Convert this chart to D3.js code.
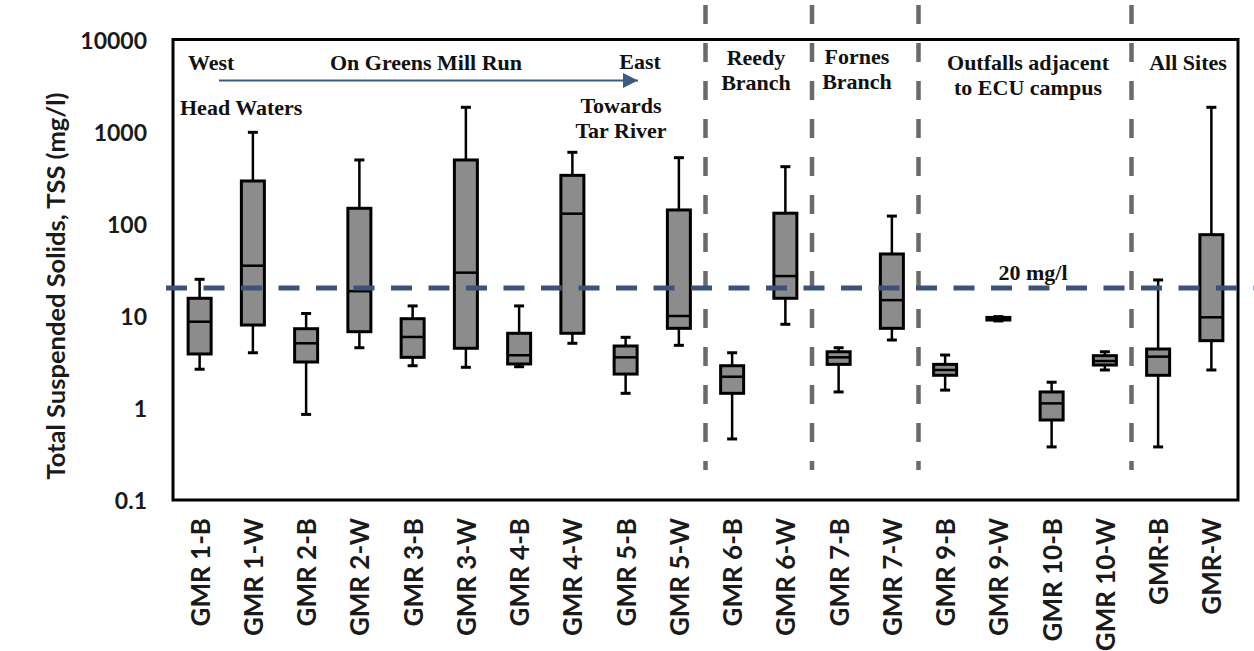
<!DOCTYPE html>
<html>
<head>
<meta charset="utf-8">
<script src="https://cdn.jsdelivr.net/npm/d3@7"></script>
<style>
  html, body { margin: 0; padding: 0; background: #ffffff; }
  svg { display: block; }
</style>
</head>
<body>
<svg id="chart" width="1254" height="651"></svg>
<script>
// Sampling sites along Greens Mill Run (B = baseflow, W = wet weather)
const sites = ["GMR 1-B", "GMR 1-W", "GMR 2-B", "GMR 2-W", "GMR 3-B", "GMR 3-W",
  "GMR 4-B", "GMR 4-W", "GMR 5-B", "GMR 5-W", "GMR 6-B", "GMR 6-W",
  "GMR 7-B", "GMR 7-W", "GMR 9-B", "GMR 9-W", "GMR 10-B", "GMR 10-W",
  "GMR-B", "GMR-W"];

// TSS box-plot statistics, mg/l
const whiskerMin = [2.63, 3.97, 0.85, 4.5, 2.87, 2.76, 2.8, 5.03, 1.44, 4.78,
  0.46, 8.09, 1.49, 5.46, 1.56, 8.8, 0.377, 2.58, 0.377, 2.58];
const quartile1 = [3.85, 7.94, 3.15, 6.72, 3.54, 4.44, 3.0, 6.46, 2.33, 7.31,
  1.44, 15.5, 2.97, 7.31, 2.26, 9.0, 0.739, 2.92, 2.26, 5.37];
const medians = [8.63, 35, 5.03, 18.5, 5.89, 29.4, 3.73, 128.5, 3.54, 9.95,
  2.18, 27, 3.54, 14.8, 2.58, 9.3, 1.12, 3.23, 3.6, 9.63];
const quartile3 = [15.5, 291, 7.24, 147, 9.3, 492, 6.46, 335, 4.7, 141,
  2.87, 130, 4.07, 46.9, 2.97, 9.6, 1.49, 3.69, 4.36, 76];
const whiskerMax = [24.9, 982, 10.6, 492, 12.8, 1836, 12.8, 596, 5.84, 521,
  3.97, 416, 4.5, 121, 3.75, 9.8, 1.9, 4.07, 24.5, 1836];

const yTicks = [0.1, 1, 10, 100, 1000, 10000];
const yTitle = "Total Suspended Solids, TSS (mg/l)";

// Group boundaries: index of first site after each divider
const dividers = [10, 12, 14, 18];

// TSS guideline
const guideline = 20;
const guidelineLabel = "20 mg/l";

const svg = d3.select("#chart");
const frame = { left: 173, top: 39.5, right: 1238, bottom: 500 };

const x = d3.scaleBand().domain(sites).range([frame.left, frame.right]).padding(0);
const y = d3.scaleLog().domain([0.1, 10000]).range([frame.bottom, frame.top]);

const serif = "'Liberation Serif', 'DejaVu Serif', serif";
const sans = "Lato, 'Open Sans', sans-serif";

// Y axis tick labels
svg.append("g").selectAll("text").data(yTicks).join("text")
  .attr("x", 147)
  .attr("y", d => y(d))
  .attr("text-anchor", "end")
  .attr("dominant-baseline", "central")
  .attr("font-family", sans).attr("font-weight", "bold").attr("font-size", 23)
  .attr("fill", "#1a1a1a")
  .text(d => d3.format("")(d));

// Y axis title
svg.append("text")
  .attr("transform", `translate(55,${(85 + 487) / 2}) rotate(-90)`)
  .attr("text-anchor", "middle")
  .attr("dominant-baseline", "central")
  .attr("font-family", sans).attr("font-weight", "bold").attr("font-size", 25.5)
  .attr("fill", "#1a1a1a")
  .text(yTitle);

// X axis category labels
svg.append("g").selectAll("text").data(sites).join("text")
  .attr("transform", d => `translate(${x(d) + x.bandwidth() / 2},518) rotate(-90)`)
  .attr("text-anchor", "end")
  .attr("dominant-baseline", "central")
  .attr("font-family", sans).attr("font-weight", "bold").attr("font-size", 26)
  .attr("fill", "#1a1a1a")
  .text(d => d);

// Group dividers
svg.append("g").selectAll("line").data(dividers).join("line")
  .attr("x1", i => x(sites[i])).attr("x2", i => x(sites[i]))
  .attr("y1", 5).attr("y2", 470)
  .attr("stroke", "#6a6a6a").attr("stroke-width", 4.5)
  .attr("stroke-dasharray", "19,19");

// Box plots
const boxW = 23;
const capW = 10;
const boxes = svg.append("g").selectAll("g").data(sites).join("g")
  .attr("transform", d => `translate(${x(d) + x.bandwidth() / 2},0)`);

boxes.append("line")
  .attr("y1", (d, i) => y(whiskerMin[i])).attr("y2", (d, i) => y(whiskerMax[i]))
  .attr("stroke", "#000").attr("stroke-width", 2.5);
boxes.append("line")
  .attr("x1", -capW / 2).attr("x2", capW / 2)
  .attr("y1", (d, i) => y(whiskerMax[i])).attr("y2", (d, i) => y(whiskerMax[i]))
  .attr("stroke", "#000").attr("stroke-width", 3);
boxes.append("line")
  .attr("x1", -capW / 2).attr("x2", capW / 2)
  .attr("y1", (d, i) => y(whiskerMin[i])).attr("y2", (d, i) => y(whiskerMin[i]))
  .attr("stroke", "#000").attr("stroke-width", 3);
boxes.append("rect")
  .attr("x", -boxW / 2).attr("width", boxW)
  .attr("y", (d, i) => y(quartile3[i]))
  .attr("height", (d, i) => y(quartile1[i]) - y(quartile3[i]))
  .attr("fill", "#8c8c8c").attr("stroke", "#000").attr("stroke-width", 3);
boxes.append("line")
  .attr("x1", -boxW / 2).attr("x2", boxW / 2)
  .attr("y1", (d, i) => y(medians[i])).attr("y2", (d, i) => y(medians[i]))
  .attr("stroke", "#000").attr("stroke-width", 2.5);

// Plot frame
svg.append("rect")
  .attr("x", frame.left).attr("y", frame.top)
  .attr("width", frame.right - frame.left).attr("height", frame.bottom - frame.top)
  .attr("fill", "none").attr("stroke", "#000").attr("stroke-width", 3);

// Guideline
svg.append("line")
  .attr("x1", 166).attr("x2", 1254)
  .attr("y1", y(guideline)).attr("y2", y(guideline))
  .attr("stroke", "#3b5378").attr("stroke-width", 5)
  .attr("stroke-dasharray", "21,16.5");
svg.append("text")
  .attr("x", 1033).attr("y", y(guideline) - 16)
  .attr("text-anchor", "middle").attr("dominant-baseline", "central")
  .attr("font-family", serif).attr("font-weight", "bold").attr("font-size", 22)
  .attr("fill", "#111")
  .text(guidelineLabel);

// Flow direction arrow
svg.append("defs").append("marker")
  .attr("id", "head").attr("viewBox", "0 0 10 10")
  .attr("refX", 10).attr("refY", 5)
  .attr("markerUnits", "userSpaceOnUse")
  .attr("markerWidth", 16).attr("markerHeight", 15)
  .attr("orient", "auto")
  .append("path").attr("d", "M0,0L10,5L0,10Z").attr("fill", "#3d5a80");
svg.append("line")
  .attr("x1", 219).attr("x2", 638).attr("y1", 80.5).attr("y2", 80.5)
  .attr("stroke", "#3d5a80").attr("stroke-width", 2)
  .attr("marker-end", "url(#head)");

// Annotations
const notes = [
  { t: "West", x: 188, y: 62, a: "start" },
  { t: "On Greens Mill Run", x: 426, y: 62, a: "middle" },
  { t: "East", x: 640, y: 61, a: "middle" },
  { t: "Head Waters", x: 180, y: 107, a: "start" },
  { t: "Towards", x: 621, y: 105, a: "middle" },
  { t: "Tar River", x: 621, y: 130, a: "middle" },
  { t: "Reedy", x: 756, y: 57, a: "middle" },
  { t: "Branch", x: 756, y: 82, a: "middle" },
  { t: "Fornes", x: 857, y: 56, a: "middle" },
  { t: "Branch", x: 857, y: 81, a: "middle" },
  { t: "Outfalls adjacent", x: 1028, y: 62, a: "middle" },
  { t: "to ECU campus", x: 1028, y: 87, a: "middle" },
  { t: "All Sites", x: 1188, y: 62, a: "middle" }
];
svg.append("g").selectAll("text").data(notes).join("text")
  .attr("x", d => d.x).attr("y", d => d.y)
  .attr("text-anchor", d => d.a).attr("dominant-baseline", "central")
  .attr("font-family", serif).attr("font-weight", "bold").attr("font-size", 22)
  .attr("fill", "#111")
  .text(d => d.t);
</script>
</body>
</html>
